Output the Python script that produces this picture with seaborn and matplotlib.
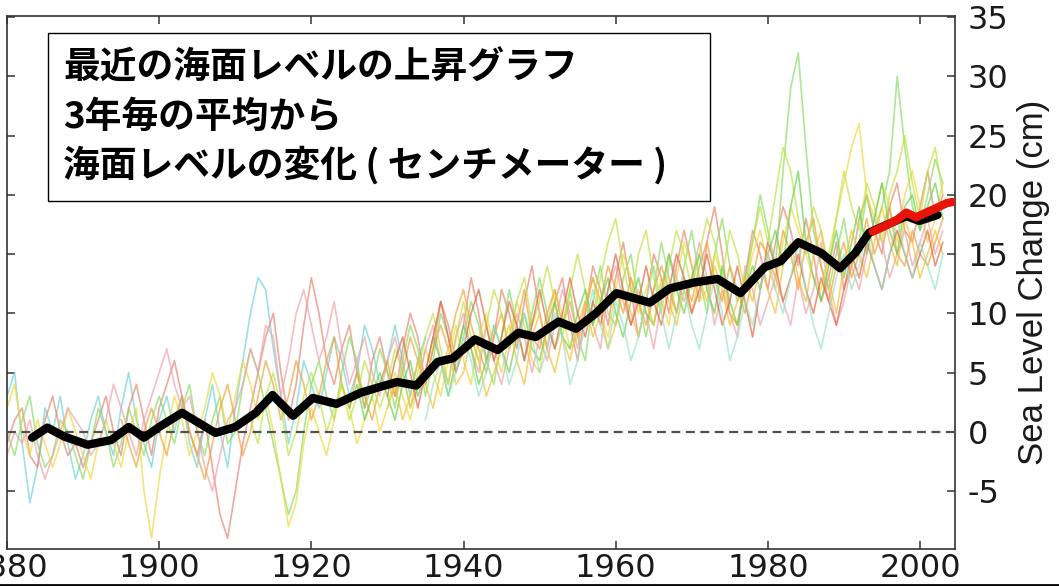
import matplotlib
matplotlib.use("Agg")
import matplotlib.pyplot as plt
from matplotlib.lines import Line2D
from matplotlib.patches import Rectangle
import numpy as np
import pandas as pd
import seaborn as sns

sns.set_style("ticks")
plt.rcParams["font.family"] = ["DejaVu Sans"]
plt.rcParams["axes.unicode_minus"] = False

# smoothed global mean (black) and satellite altimetry (red), cm
MEAN_YEARS = [1883.3, 1885.3, 1887.5, 1890.6, 1893.7, 1896.0, 1898.0, 1900.0, 1903.0,
              1907.4, 1910.0, 1912.7, 1914.9, 1917.6, 1920.2, 1923.3, 1926.5, 1929.1,
              1931.3, 1933.8, 1936.6, 1938.6, 1941.5, 1944.5, 1947.2, 1949.5, 1952.5,
              1954.8, 1957.4, 1960.1, 1964.5, 1967.1, 1970.3, 1973.4, 1976.4, 1979.6,
              1981.7, 1984.0, 1987.0, 1989.5, 1991.5, 1993.3, 1995.0, 1998.2, 1999.9,
              2002.3]
MEAN_CM = [-0.5, 0.35, -0.4, -1.1, -0.7, 0.4, -0.5, 0.4, 1.6,
           -0.1, 0.4, 1.6, 3.1, 1.35, 2.85, 2.35, 3.3, 3.8,
           4.2, 3.9, 5.9, 6.2, 7.8, 6.9, 8.35, 8.0, 9.3,
           8.7, 10.0, 11.7, 10.9, 12.1, 12.6, 12.9, 11.7, 13.9,
           14.4, 16.0, 15.1, 13.8, 15.1, 16.8, 17.3, 18.2, 17.8,
           18.3]
SAT_YEARS = [1993.8, 1995.5, 1997.0, 1998.2, 1999.5, 2000.8, 2002.2, 2003.5, 2004.3]
SAT_CM = [16.9, 17.4, 17.9, 18.5, 18.1, 18.5, 18.9, 19.3, 19.4]
BASELINE = 0

# individual tide-gauge records, one value per year from the start year
CYAN_1880 = [3, 5, -1, -6, -3, 2, 0, 3, -1, -4,
             -2, 1, 3, 0, -2, 2, 5, 1, -1, -3,
             1, 3, 0, 3, -1, -3, 1, 4, 0, -3,
             2, 6, 10, 13, 12, 7, 3, -1, 2, 6,
             4, 2, 5, 8, 6, 3, 5, 9, 7, 4,
             6, 9, 6, 3, 6, 8]
SALMON_1880 = [-1, 1, 2, -2, -3, 1, 3, 0, -2, -1,
               -3, -1, 1, 3, 0, -2, 2, 4, 1, -2,
               2, 4, 6, 3, 0, -2, 1, -3, -7, -9,
               -5, -1, 2, 5, 8, 10, 5, 1, 4, 9,
               13, 10, 6, 4, 7, 9, 5, 2, 6, 8,
               5, 3, 7, 10, 8, 4, 7, 11, 9, 6,
               9, 13, 10, 6, 8, 12, 10, 7, 11, 14,
               10, 7, 11, 13, 9, 6, 10, 14, 12, 9,
               13, 16, 12, 8, 11, 15, 13, 10, 14, 17,
               14, 11, 16, 19, 15, 10, 9, 13, 17, 15,
               12, 16, 19, 17, 14, 18, 15, 11, 13, 16,
               12, 14, 18, 20, 17, 15, 19, 21, 17, 16,
               19, 22, 18, 20]
GREEN_1880 = [0, -2, 1, 3, -1, -3, -2, 1, 0, -2,
              -4, -1, 2, 0, -3, -1, 2, 0, -2, 1,
              3, 1, -1, 2, 4, 0, -2, 1, 3, -1,
              0, 4, 7, 5, 2, -1, -4, -7, -5, 0,
              4, 6, 3, 1, 5, 8, 6, 2, 4, 7,
              5, 2, 6, 9, 7, 3, 6, 10, 8, 5,
              8, 11, 9, 6, 4, 8, 12, 9, 6, 10,
              13, 10, 7, 9, 12, 8, 6, 11, 14, 10,
              9, 13, 15, 11, 8, 12, 16, 13, 10, 14,
              17, 13, 10, 15, 18, 14, 11, 13, 16, 20,
              17, 14, 22, 29, 32, 24, 17, 14, 12, 15,
              18, 14, 16, 20, 17, 19, 22, 30, 24, 19,
              17, 20, 23, 21]
YELLOW_1880 = [2, 4, 0, -2, 1, -1, -3, -1, 2, 0,
               -2, -4, -1, 1, -1, -3, 0, 2, -5, -9,
               -4, 0, 3, 1, -2, 0, 2, 5, 3, 0,
               3, 6, 4, 1, 3, 0, -4, -8, -6, -1,
               2, 0, -2, 1, 4, 2, -1, 1, 3, 0,
               2, 5, 3, 1, 4, 7, 5, 3, 6, 9,
               6, 4, 8, 10, 7, 5, 8, 11, 9, 6,
               5, 9, 12, 10, 7, 8, 11, 13, 10, 8,
               12, 15, 13, 10, 12, 14, 11, 9, 13, 16,
               14, 11, 12, 15, 13, 10, 9, 12, 15, 17,
               14, 12, 16, 19, 17, 15, 13, 12, 15, 18,
               21, 24, 26, 20, 18, 21, 19, 16, 20, 22,
               19, 16, 18, 21]
PINK_1880 = [-2, 0, -1, 1, -2, -4, -2, 0, 2, 1,
             0, -2, -1, 1, 4, 2, 0, -2, 1, 3,
             5, 7, 4, 2, 3, 0, -3, -5, -2, 1,
             2, 4, 7, 5, 9, 8, 3, 6, 10, 12,
             9, 6, 8, 11, 7, 4, 6, 8, 5, 3,
             6, 8, 5, 2, 4, 7, 9, 6, 4, 8,
             10, 7, 5, 9, 6, 4, 7, 10, 8, 5,
             8, 6, 9, 12, 10, 7, 11, 9, 7, 12,
             14, 11, 9, 12, 10, 7, 11, 15, 13, 11,
             13, 16, 13, 9, 12, 10, 8, 14, 12, 9,
             11, 13, 11, 9, 13, 10, 12, 16, 12, 9,
             11, 14, 12, 15, 18, 16, 13, 15, 17, 14,
             16, 18, 15, 17]
ORANGE_1895 = [1, -1, -3, 0, 2,
               0, -2, 1, 3, 0, -2, -4, -1, 2, 4,
               1, -2, 0, 3, 6, 4, 1, 3, 6, 4,
               1, 3, 6, 8, 4, 2, 5, 3, 1, 4,
               6, 3, 5, 8, 6, 4, 7, 9, 7, 10,
               12, 9, 7, 5, 8, 10, 7, 9, 12, 8,
               7, 10, 12, 9, 11, 8, 10, 13, 11, 14,
               12, 10, 13, 11, 9, 12, 14, 12, 10, 13,
               11, 14, 16, 13, 11, 14, 12, 10, 13, 16,
               15, 13, 17, 15, 12, 16, 18, 14, 11, 14,
               16, 13, 15, 18, 15, 17, 19, 15, 14, 17,
               15, 14, 16, 18]
LIME_1912 = [1, -1, 3, 5, 2, -2, 0, 3,
             5, 3, 0, 2, 4, 1, 3, 6, 4, 2,
             4, 7, 5, 2, 5, 8, 10, 7, 4, 8,
             11, 8, 6, 9, 12, 10, 7, 11, 13, 9,
             11, 14, 11, 8, 12, 15, 12, 9, 13, 16,
             18, 14, 11, 15, 17, 13, 10, 14, 17, 15,
             12, 15, 18, 16, 13, 17, 15, 12, 16, 19,
             16, 20, 24, 22, 18, 15, 19, 17, 14, 18,
             22, 19, 17, 21, 19, 16, 20, 22, 25, 21,
             18, 22, 24, 20]
GREEN_1925 = [2, 4, 1, 3, 5,
              3, 1, 4, 6, 3, 5, 8, 6, 3, 6,
              9, 7, 4, 6, 9, 7, 5, 8, 10, 7,
              6, 9, 11, 8, 7, 10, 12, 9, 11, 13,
              10, 8, 11, 13, 10, 9, 12, 15, 12, 10,
              13, 15, 12, 10, 14, 11, 9, 12, 14, 12,
              15, 17, 14, 19, 22, 16, 13, 11, 14, 17,
              13, 16, 19, 15, 18, 21, 17, 15, 19, 20,
              17, 19, 21, 18]
GOLD_1930 = [2, 4, 1, 3, 6, 4, 2, 5, 7, 4,
             5, 8, 6, 3, 5, 7, 9, 6, 4, 8,
             10, 7, 5, 8, 6, 9, 11, 8, 10, 7,
             9, 12, 10, 8, 11, 9, 13, 11, 9, 12,
             10, 13, 11, 14, 12, 9, 11, 13, 11, 14,
             12, 10, 14, 16, 13, 11, 15, 17, 13, 10,
             14, 17, 15, 13, 16, 19, 16, 14, 18, 16,
             13, 15, 17, 15]
REDORANGE_1930 = [3, 6, 8, 5, 2, 5, 8, 11, 8, 5,
                  7, 10, 12, 9, 6, 8, 11, 9, 6, 9,
                  12, 9, 7, 10, 13, 10, 8, 11, 9, 12,
                  15, 12, 9, 11, 14, 11, 9, 12, 15, 13,
                  10, 12, 15, 12, 9, 11, 14, 11, 8, 12,
                  16, 14, 11, 13, 15, 12, 10, 13, 11, 9,
                  12, 15, 13, 16, 14, 12, 15, 17, 15, 13,
                  15, 17, 14, 16]
AQUA_1935 = [1, 4, 6, 3, 5,
             8, 6, 3, 5, 9, 7, 4, 6, 10, 8,
             5, 7, 10, 8, 4, 6, 9, 12, 9, 7,
             11, 9, 6, 8, 11, 14, 10, 7, 10, 12,
             9, 7, 10, 13, 10, 6, 8, 11, 9, 12,
             15, 12, 10, 13, 16, 12, 9, 7, 10, 13,
             15, 12, 14, 17, 14, 12, 15, 18, 15, 13,
             16, 14, 12, 15]

GAUGES = [
    ("cyan", 1880, CYAN_1880, "#6fd2d8"),
    ("salmon", 1880, SALMON_1880, "#e8826c"),
    ("green", 1880, GREEN_1880, "#86dc64"),
    ("yellow", 1880, YELLOW_1880, "#efd83a"),
    ("pink", 1880, PINK_1880, "#f0a0aa"),
    ("orange", 1895, ORANGE_1895, "#f0a032"),
    ("lime", 1912, LIME_1912, "#bde43c"),
    ("green2", 1925, GREEN_1925, "#62d24a"),
    ("gold", 1930, GOLD_1930, "#f5c02c"),
    ("redorange", 1930, REDORANGE_1930, "#e0643e"),
    ("aqua", 1935, AQUA_1935, "#98e2c4"),
]

frames = []
for name, start, vals, _ in GAUGES:
    frames.append(pd.DataFrame({"year": np.arange(start, start + len(vals)),
                                "cm": vals, "gauge": name}))
gauges = pd.concat(frames, ignore_index=True)
palette = {name: col for name, _, _, col in GAUGES}

fig = plt.figure(figsize=(10.59, 5.86), dpi=100)
ax = fig.add_axes([7 / 1059, 37 / 586, 948 / 1059, 533 / 586])

sns.lineplot(data=gauges, x="year", y="cm", hue="gauge", palette=palette,
             estimator=None, lw=1.2, alpha=0.68, legend=False, ax=ax)
ax.axhline(BASELINE, color="#505050", lw=1.6, dashes=[4, 2.5], zorder=3)
sns.lineplot(x=MEAN_YEARS, y=MEAN_CM, color="black", lw=6, ax=ax, zorder=4,
             solid_capstyle="round", solid_joinstyle="round")
sns.lineplot(x=SAT_YEARS, y=SAT_CM, color="#e8140a", lw=6, ax=ax, zorder=5,
             solid_capstyle="round", solid_joinstyle="round")

ax.set_xlim(1880, 2004.6)
ax.set_ylim(-9.9, 35.1)
ax.set_xticks(range(1880, 2001, 20))
ax.set_yticks(range(-5, 36, 5))
ax.tick_params(axis="both", direction="in", length=6, width=1.1, colors="#333333",
               labelcolor="#1a1a1a", labelsize=23)
ax.tick_params(axis="x", top=True, bottom=True, pad=3)
ax.tick_params(axis="y", left=True, right=True, labelleft=False, labelright=True, pad=9)
for s in ax.spines.values():
    s.set_visible(True)
    s.set_color("#333333")
    s.set_linewidth(1.2)

ax.set_xlabel("")
ax.yaxis.set_label_position("right")
ax.set_ylabel("Sea Level Change (cm)", fontsize=25, family="Liberation Sans",
              color="#1a1a1a", labelpad=6)

# title box
fig.add_artist(Rectangle((48 / 1059, 1 - 201 / 586), 662 / 1059, 168 / 586,
                         transform=fig.transFigure, facecolor="white",
                         edgecolor="black", lw=1.0, zorder=10))
title_lines = ["最近の海面レベルの上昇グラフ", "3年毎の平均から",
               "海面レベルの変化 ( センチメーター )"]
for line, ypx in zip(title_lines, [68, 117, 165]):
    fig.text(63 / 1059, 1 - ypx / 586, line, fontsize=26.5, fontweight="bold",
             family=["Noto Sans CJK JP", "DejaVu Sans"], va="center", ha="left",
             color="black", zorder=11)

fig.add_artist(Line2D([0, 1], [1.5 / 586, 1.5 / 586], transform=fig.transFigure,
                      color="black", lw=2))

fig.savefig("out.png", dpi=100, facecolor="white")
